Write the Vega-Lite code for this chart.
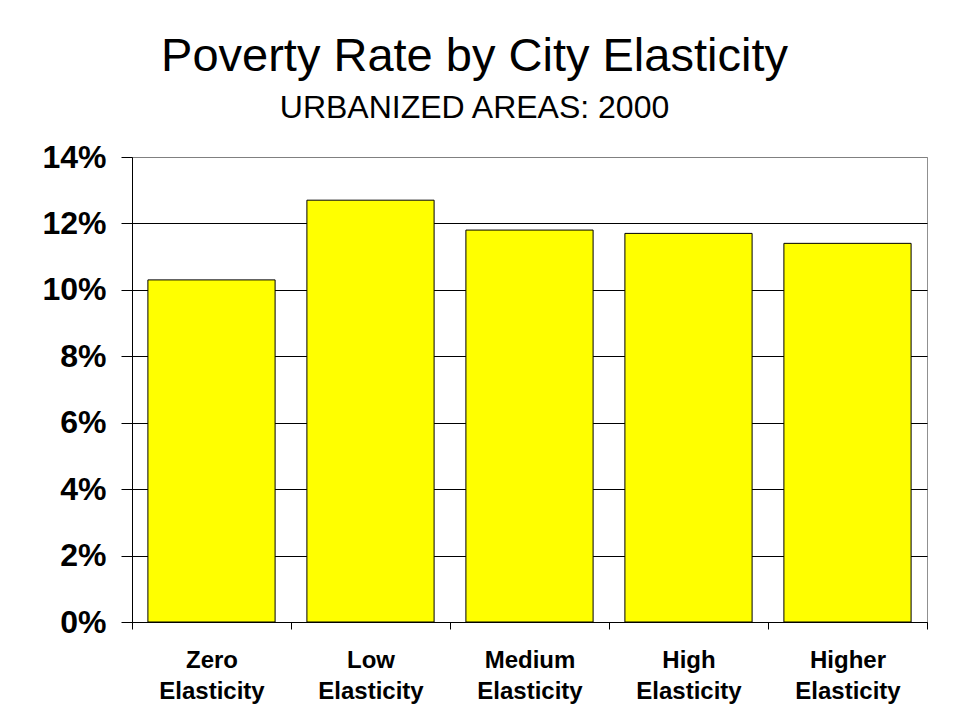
{
  "$schema": "https://vega.github.io/schema/vega-lite/v6.json",
  "width": 795,
  "height": 465,
  "autosize": "none",
  "padding": {"left": 132, "top": 157, "right": 33, "bottom": 99},
  "background": "white",
  "title": {
    "text": "Poverty Rate by City Elasticity",
    "subtitle": "URBANIZED AREAS: 2000",
    "anchor": "middle",
    "dx": -55,
    "offset": 16,
    "font": "Liberation Sans",
    "fontSize": 47,
    "fontWeight": "normal",
    "color": "black",
    "subtitleFont": "Liberation Sans",
    "subtitleFontSize": 32,
    "subtitleColor": "black",
    "subtitlePadding": 12
  },
  "data": {
    "values": [
      {"category": "Zero Elasticity", "rate": 0.103},
      {"category": "Low Elasticity", "rate": 0.127},
      {"category": "Medium Elasticity", "rate": 0.118},
      {"category": "High Elasticity", "rate": 0.117},
      {"category": "Higher Elasticity", "rate": 0.114}
    ]
  },
  "mark": {"type": "bar", "fill": "#FFFF00", "stroke": "black", "strokeWidth": 1, "width": {"band": 0.8}},
  "encoding": {
    "x": {
      "field": "category",
      "type": "nominal",
      "sort": null,
      "scale": {"paddingInner": 0, "paddingOuter": 0},
      "axis": {
        "title": null,
        "labelAngle": 0,
        "labelExpr": "split(datum.label, ' ')",
        "labelFont": "Liberation Sans",
        "labelFontSize": 24,
        "labelFontWeight": "bold",
        "labelColor": "black",
        "labelLineHeight": 31,
        "labelPadding": 19,
        "tickSize": 7,
        "tickColor": "black",
        "tickBand": "extent",
        "domainColor": "black",
        "grid": false
      }
    },
    "y": {
      "field": "rate",
      "type": "quantitative",
      "scale": {"domain": [0, 0.14]},
      "axis": {
        "title": null,
        "values": [0, 0.02, 0.04, 0.06, 0.08, 0.1, 0.12, 0.14],
        "format": ".0%",
        "labelFont": "Liberation Sans",
        "labelFontSize": 32,
        "labelFontWeight": "bold",
        "labelColor": "black",
        "labelPadding": 15,
        "tickSize": 11,
        "tickColor": "black",
        "domainColor": "black",
        "grid": true,
        "gridColor": {"condition": {"test": "datum.value >= 0.139", "value": "#808080"}, "value": "black"},
        "gridOpacity": 1,
        "gridWidth": 1
      }
    }
  },
  "config": {"view": {"stroke": "#909090", "strokeWidth": 1}}
}
